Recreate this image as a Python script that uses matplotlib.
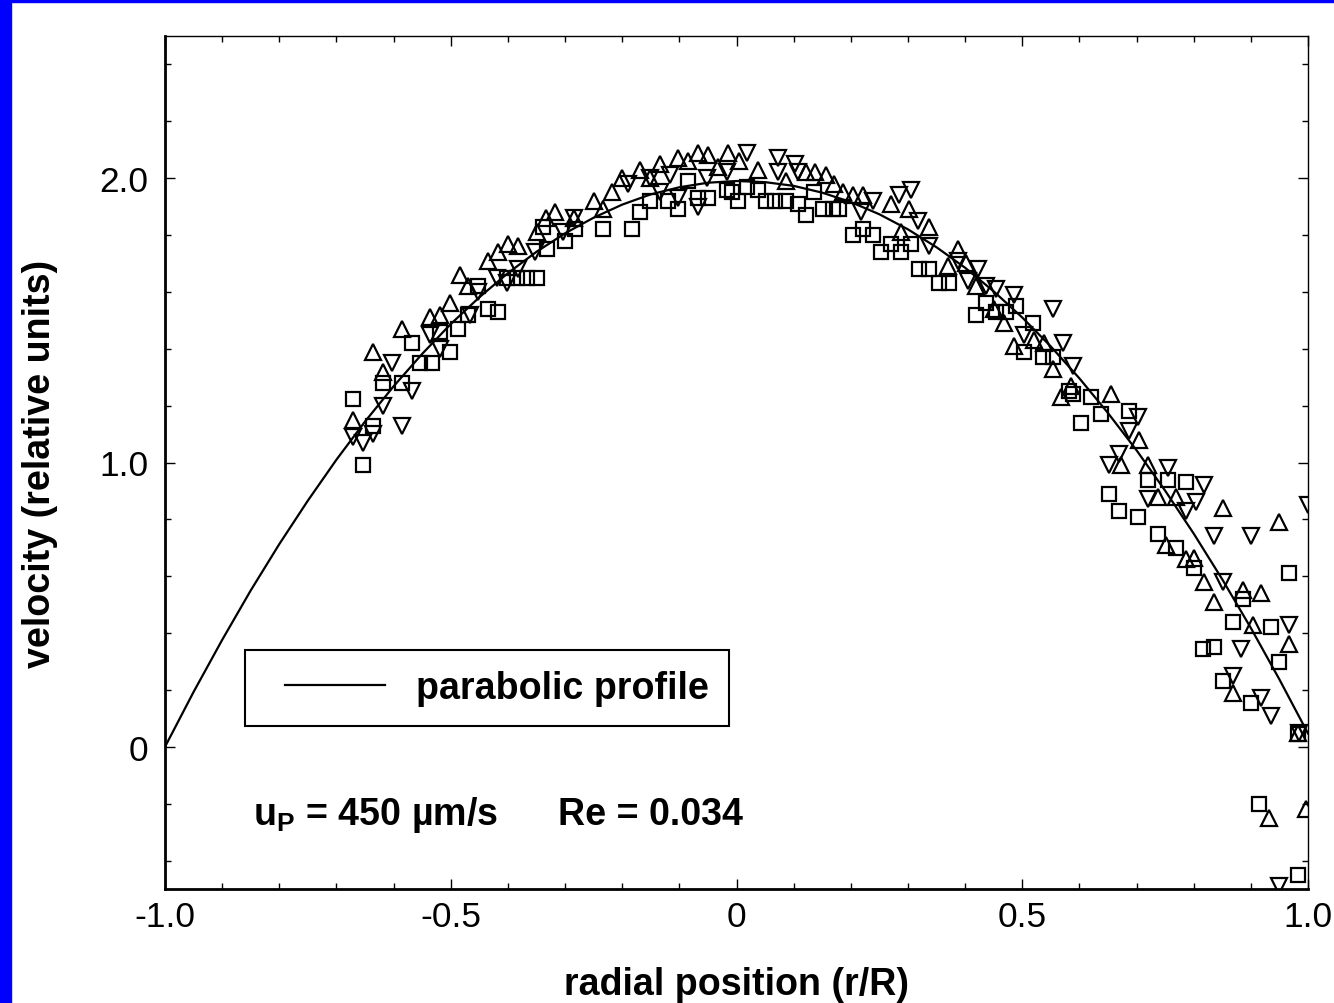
import matplotlib
matplotlib.use("Agg")
import matplotlib.pyplot as plt
from matplotlib import font_manager
from matplotlib.patches import Rectangle
from matplotlib.legend_handler import HandlerLine2D

# parabolic profile, every 0.05 in r/R
profile_r = [-1.0, -0.95, -0.9, -0.85, -0.8, -0.75, -0.7, -0.65, -0.6, -0.55, -0.5,
             -0.45, -0.4, -0.35, -0.3, -0.25, -0.2, -0.15, -0.1, -0.05, 0.0,
             0.05, 0.1, 0.15, 0.2, 0.25, 0.3, 0.35, 0.4, 0.45, 0.5,
             0.55, 0.6, 0.65, 0.7, 0.75, 0.8, 0.85, 0.9, 0.95, 1.0]
profile_v = [0.0, 0.193, 0.376, 0.550, 0.713, 0.866, 1.010, 1.144, 1.268, 1.382, 1.487,
             1.581, 1.666, 1.741, 1.806, 1.861, 1.907, 1.943, 1.968, 1.984, 1.990,
             1.986, 1.973, 1.949, 1.916, 1.873, 1.820, 1.757, 1.685, 1.602, 1.510,
             1.408, 1.296, 1.174, 1.043, 0.901, 0.750, 0.589, 0.418, 0.237, 0.047]

# open squares
sq_r = [-0.671, -0.653, -0.636, -0.618, -0.585, -0.567, -0.553, -0.532, -0.518, -0.501,
        -0.487, -0.469, -0.452, -0.434, -0.417, -0.401, -0.384, -0.366, -0.349, -0.338,
        -0.331, -0.300, -0.282, -0.233, -0.182, -0.168, -0.151, -0.119, -0.102, -0.084,
        -0.067, -0.049, -0.016, -0.007, 0.002, 0.019, 0.037, 0.051, 0.068, 0.086,
        0.107, 0.121, 0.135, 0.151, 0.168, 0.179, 0.203, 0.221, 0.238, 0.252,
        0.270, 0.287, 0.305, 0.319, 0.336, 0.354, 0.371, 0.419, 0.436, 0.454,
        0.471, 0.489, 0.503, 0.518, 0.536, 0.553, 0.581, 0.588, 0.602, 0.620,
        0.637, 0.651, 0.669, 0.686, 0.702, 0.720, 0.737, 0.755, 0.769, 0.786,
        0.800, 0.816, 0.835, 0.851, 0.869, 0.886, 0.900, 0.914, 0.935, 0.949,
        0.967, 0.982, 0.982]
sq_v = [1.225, 0.99, 1.13, 1.28, 1.28, 1.42, 1.35, 1.35, 1.46, 1.39,
        1.47, 1.52, 1.62, 1.54, 1.53, 1.65, 1.65, 1.65, 1.65, 1.83,
        1.75, 1.78, 1.82, 1.82, 1.82, 1.88, 1.92, 1.92, 1.89, 1.99,
        1.93, 1.93, 1.96, 1.95, 1.92, 1.97, 1.96, 1.92, 1.92, 1.92,
        1.91, 1.87, 1.95, 1.89, 1.89, 1.89, 1.80, 1.82, 1.80, 1.74,
        1.77, 1.74, 1.77, 1.68, 1.68, 1.63, 1.63, 1.52, 1.56, 1.53,
        1.53, 1.55, 1.39, 1.49, 1.37, 1.37, 1.25, 1.24, 1.14, 1.23,
        1.17, 0.89, 0.83, 1.18, 0.81, 0.94, 0.75, 0.94, 0.70, 0.93,
        0.63, 0.345, 0.35, 0.23, 0.44, 0.52, 0.155, -0.20, 0.42, 0.30,
        0.61, 0.046, -0.45]

# open triangles pointing up
up_r = [-0.671, -0.636, -0.618, -0.585, -0.536, -0.518, -0.501, -0.483, -0.469, -0.434,
        -0.417, -0.399, -0.382, -0.349, -0.334, -0.317, -0.285, -0.250, -0.233, -0.217,
        -0.200, -0.168, -0.151, -0.133, -0.102, -0.084, -0.067, -0.049, -0.032, -0.014,
        0.004, 0.037, 0.086, 0.121, 0.138, 0.156, 0.170, 0.187, 0.203, 0.221,
        0.270, 0.287, 0.301, 0.336, 0.370, 0.387, 0.401, 0.419, 0.450, 0.468,
        0.485, 0.520, 0.538, 0.553, 0.567, 0.585, 0.655, 0.672, 0.704, 0.720,
        0.737, 0.751, 0.769, 0.786, 0.800, 0.818, 0.835, 0.851, 0.869, 0.886,
        0.904, 0.918, 0.932, 0.949, 0.967, 0.982, 0.997]
up_v = [1.15, 1.39, 1.32, 1.47, 1.51, 1.52, 1.56, 1.66, 1.62, 1.71,
        1.74, 1.77, 1.76, 1.81, 1.86, 1.88, 1.86, 1.92, 1.89, 1.95,
        2.00, 2.03, 2.00, 2.05, 2.07, 2.06, 2.09, 2.08, 2.04, 2.09,
        2.06, 2.03, 1.99, 2.02, 2.02, 2.01, 1.98, 1.95, 1.94, 1.94,
        1.91, 1.81, 1.89, 1.83, 1.69, 1.75, 1.70, 1.62, 1.54, 1.49,
        1.41, 1.43, 1.42, 1.33, 1.23, 1.27, 1.24, 0.99, 1.08, 0.99,
        0.88, 0.71, 0.88, 0.66, 0.665, 0.58, 0.51, 0.84, 0.19, 0.55,
        0.43, 0.54, -0.25, 0.79, 0.36, 0.05, -0.22]

# open triangles pointing down
dn_r = [-0.671, -0.653, -0.636, -0.618, -0.602, -0.585, -0.567, -0.536, -0.518, -0.466,
        -0.452, -0.419, -0.401, -0.382, -0.352, -0.303, -0.285, -0.189, -0.151, -0.133,
        -0.116, -0.102, -0.067, -0.051, -0.016, 0.019, 0.072, 0.072, 0.103, 0.107,
        0.217, 0.238, 0.284, 0.305, 0.317, 0.336, 0.387, 0.405, 0.422, 0.436,
        0.454, 0.485, 0.503, 0.553, 0.571, 0.588, 0.651, 0.669, 0.686, 0.702,
        0.720, 0.755, 0.786, 0.804, 0.818, 0.835, 0.851, 0.869, 0.883, 0.900,
        0.918, 0.935, 0.949, 0.967, 0.984, 1.000]
dn_v = [1.09, 1.07, 1.10, 1.20, 1.35, 1.13, 1.25, 1.45, 1.40, 1.52,
        1.60, 1.65, 1.63, 1.68, 1.74, 1.81, 1.86, 1.98, 2.00, 1.95,
        2.01, 1.93, 1.90, 2.00, 2.02, 2.09, 2.07, 2.02, 2.05, 2.02,
        1.88, 1.92, 1.94, 1.96, 1.85, 1.76, 1.71, 1.64, 1.68, 1.62,
        1.61, 1.59, 1.45, 1.54, 1.42, 1.34, 0.99, 1.03, 1.11, 1.16,
        0.87, 0.98, 0.83, 0.86, 0.92, 0.74, 0.58, 0.25, 0.345, 0.74,
        0.17, 0.11, -0.49, 0.43, 0.05, 0.85]

x_ticks = [-1.0, -0.5, 0.0, 0.5, 1.0]
x_ticklabels = ['-1.0', '-0.5', '0', '0.5', '1.0']
y_ticks = [0.0, 1.0, 2.0]
y_ticklabels = ['0', '1.0', '2.0']

# narrow font if present, else regular one scaled down to keep the widths
installed = {f.name for f in font_manager.fontManager.ttflist}
if 'Liberation Sans Narrow' in installed:
    FONT, k = 'Liberation Sans Narrow', 1.0
else:
    FONT, k = 'Liberation Sans', 0.82
plt.rcParams['font.family'] = [FONT, 'DejaVu Sans']
plt.rcParams['mathtext.fontset'] = 'custom'
plt.rcParams['mathtext.rm'] = FONT
plt.rcParams['mathtext.bf'] = FONT + ':bold'

W, H = 1334, 1004
fig = plt.figure(figsize=(W / 100, H / 100), dpi=100)
fig.patch.set_facecolor('white')
# blue frame strips on the left and top edge
fig.patches.append(Rectangle((0, 0), 11 / W, 1, transform=fig.transFigure, color='#0000ff', zorder=0))
fig.patches.append(Rectangle((0, 1 - 3 / H), 1, 3 / H, transform=fig.transFigure, color='#0000ff', zorder=0))

ax = fig.add_axes([165 / W, 114 / H, 1143 / W, 853 / H])

line, = ax.plot(profile_r, profile_v, color='black', lw=1.6, label='parabolic profile', zorder=2)
mk = dict(linestyle='none', markerfacecolor='none', markeredgecolor='black', markeredgewidth=1.6, zorder=3)
ax.plot(sq_r, sq_v, marker='s', markersize=10, **mk)
ax.plot(up_r, up_v, marker='^', markersize=11, **mk)
ax.plot(dn_r, dn_v, marker='v', markersize=11, **mk)

ax.set_xlim(-1.0, 1.0)
ax.set_ylim(-0.5, 2.5)
ax.set_xticks(x_ticks, labels=x_ticklabels)
ax.set_yticks(y_ticks, labels=y_ticklabels)
ax.set_xticks([i / 10 for i in range(-10, 11)], minor=True)
ax.set_yticks([i / 5 for i in range(-2, 13)], minor=True)
ax.tick_params(which='both', direction='in', top=True, right=True, width=1.0)
ax.tick_params(which='major', length=7)
ax.tick_params(which='minor', length=4)
ax.tick_params(axis='x', which='major', labelsize=31 * k, pad=8)
ax.tick_params(axis='y', which='major', labelsize=31 * k, pad=12)

for side in ['left', 'bottom']:
    ax.spines[side].set_linewidth(2.0)
for side in ['top', 'right']:
    ax.spines[side].set_linewidth(1.0)

ax.set_xlabel('radial position (r/R)', fontsize=33 * k, fontweight='bold')
ax.set_ylabel('velocity (relative units)', fontsize=33 * k, fontweight='bold')
ax.xaxis.set_label_coords(0.5, -0.090)
ax.yaxis.set_label_coords(-0.094, 0.5)

fs = 33 * k
fs_px = fs * 100 / 72
leg = ax.legend(handles=[line], loc='upper left', bbox_to_anchor=(80 / 1143, 239 / 853),
                borderaxespad=0, fancybox=False, framealpha=1, edgecolor='black',
                prop={'family': [FONT, 'DejaVu Sans'], 'weight': 'bold', 'size': fs},
                borderpad=20 / fs_px, handlelength=120 / fs_px, handletextpad=31 / fs_px,
                handler_map={line: HandlerLine2D(xpad=20 / fs_px)})
leg.get_frame().set_linewidth(1.5)

ax.text(0.077, 0.076, r'u$_\mathbf{P}$ = 450 µm/s', transform=ax.transAxes,
        fontsize=fs, fontweight='bold', va='baseline', ha='left')
ax.text(0.344, 0.076, 'Re = 0.034', transform=ax.transAxes,
        fontsize=fs, fontweight='bold', va='baseline', ha='left')

fig.savefig('out.png', dpi=100)
